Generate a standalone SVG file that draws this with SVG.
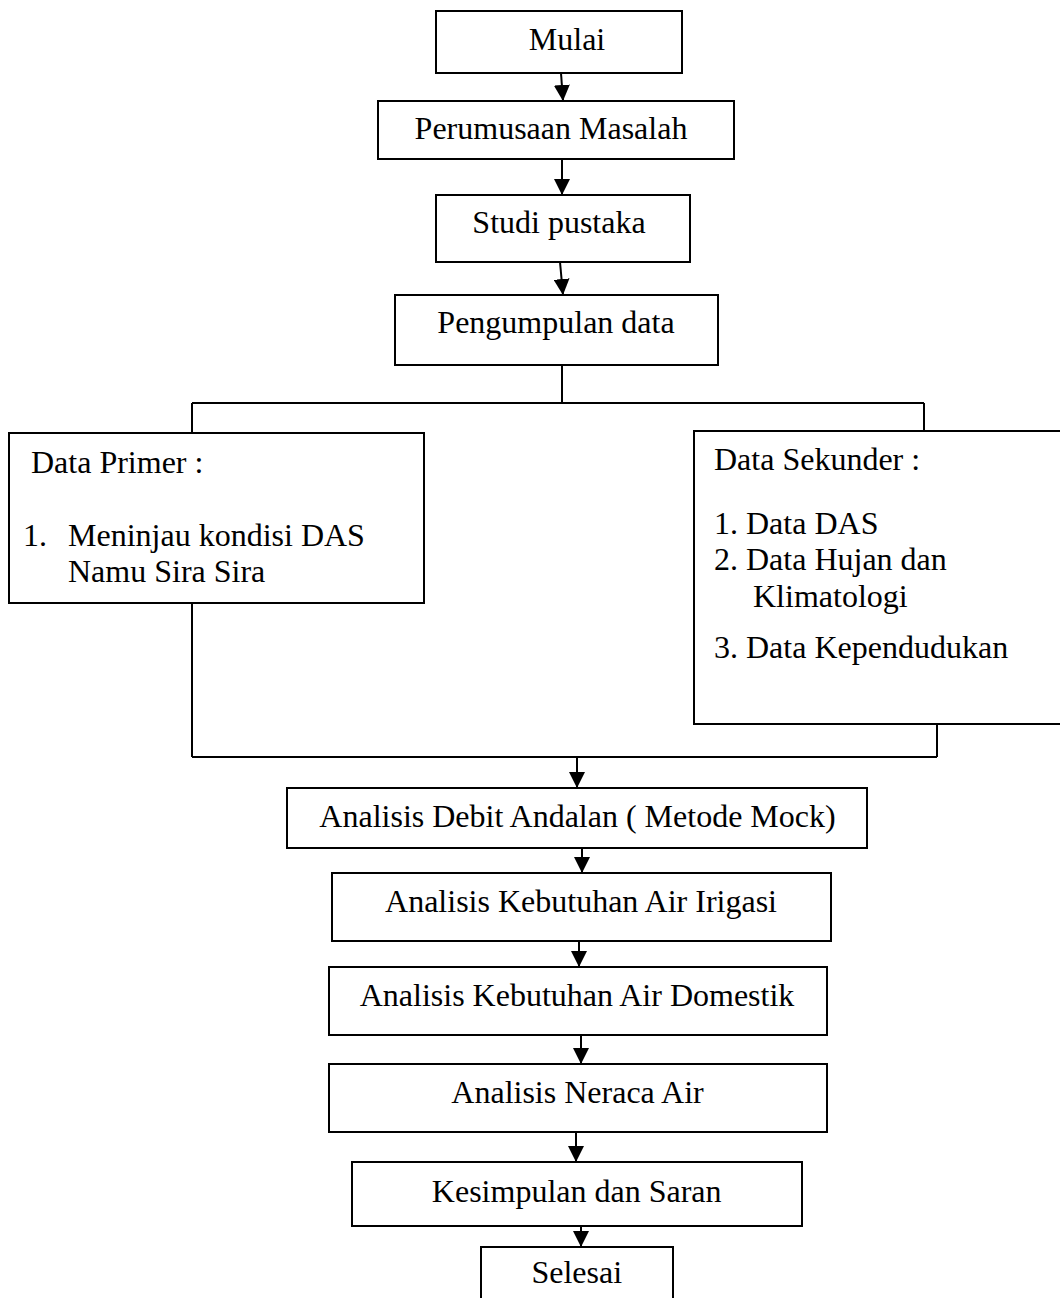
<svg xmlns="http://www.w3.org/2000/svg" width="1060" height="1298" viewBox="0 0 1060 1298">
<defs>
<style>
.box{fill:#fff;stroke:#000;stroke-width:2}
.ln{fill:none;stroke:#000;stroke-width:2}
.t{font-family:"Liberation Serif","Times New Roman",serif;font-size:32px;fill:#000}
.c{text-anchor:middle}
</style>
<marker id="arr" markerWidth="16" markerHeight="16" viewBox="0 0 16 16" refX="16" refY="8" orient="auto" markerUnits="userSpaceOnUse">
<path d="M0,0 L16,8 L0,16 Z" fill="#000"/>
</marker>
</defs>
<rect width="1060" height="1298" fill="#fff"/>
<g id="connectors">
<path class="ln" d="M561,73 L563,101" marker-end="url(#arr)"/>
<path class="ln" d="M562,159 L562,195" marker-end="url(#arr)"/>
<path class="ln" d="M560,262 L563,295" marker-end="url(#arr)"/>
<path class="ln" d="M562,365 L562,403 M192,403 L924,403 M192,403 L192,433 M924,403 L924,431"/>
<path class="ln" d="M192,603 L192,757 M937,724 L937,757 M192,757 L937,757"/>
<path class="ln" d="M577,757 L577,788" marker-end="url(#arr)"/>
<path class="ln" d="M582,848 L582,873" marker-end="url(#arr)"/>
<path class="ln" d="M579,941 L579,967" marker-end="url(#arr)"/>
<path class="ln" d="M581,1035 L581,1064" marker-end="url(#arr)"/>
<path class="ln" d="M576,1132 L576,1162" marker-end="url(#arr)"/>
<path class="ln" d="M581,1226 L581,1247" marker-end="url(#arr)"/>
</g>
<g id="mulai"><rect class="box" x="436" y="11" width="246" height="62"/><text class="t c" x="567" y="50">Mulai</text></g>
<g id="perumusaan"><rect class="box" x="378" y="101" width="356" height="58"/><text class="t c" x="551" y="139">Perumusaan Masalah</text></g>
<g id="studi"><rect class="box" x="436" y="195" width="254" height="67"/><text class="t c" x="559" y="233">Studi pustaka</text></g>
<g id="pengumpulan"><rect class="box" x="395" y="295" width="323" height="70"/><text class="t c" x="556" y="333">Pengumpulan data</text></g>
<g id="data-primer"><rect class="box" x="9" y="433" width="415" height="170"/>
<text class="t" x="31" y="473">Data Primer :</text>
<text class="t" x="23" y="546">1.</text>
<text class="t" x="68" y="546">Meninjau kondisi DAS</text>
<text class="t" x="68" y="582">Namu Sira Sira</text></g>
<g id="data-sekunder"><rect class="box" x="694" y="431" width="380" height="293"/>
<text class="t" x="714" y="470">Data Sekunder :</text>
<text class="t" x="714" y="534">1. Data DAS</text>
<text class="t" x="714" y="570">2. Data Hujan dan</text>
<text class="t" x="753" y="607">Klimatologi</text>
<text class="t" x="714" y="658">3. Data Kependudukan</text></g>
<g id="debit"><rect class="box" x="287" y="788" width="580" height="60"/><text class="t c" x="577.5" y="827">Analisis Debit Andalan ( Metode Mock)</text></g>
<g id="irigasi"><rect class="box" x="332" y="873" width="499" height="68"/><text class="t c" x="581" y="912">Analisis Kebutuhan Air Irigasi</text></g>
<g id="domestik"><rect class="box" x="329" y="967" width="498" height="68"/><text class="t c" x="577" y="1006">Analisis Kebutuhan Air Domestik</text></g>
<g id="neraca"><rect class="box" x="329" y="1064" width="498" height="68"/><text class="t c" x="577.5" y="1103">Analisis Neraca Air</text></g>
<g id="kesimpulan"><rect class="box" x="352" y="1162" width="450" height="64"/><text class="t c" x="576.7" y="1202">Kesimpulan dan Saran</text></g>
<g id="selesai"><rect class="box" x="481" y="1247" width="192" height="60"/><text class="t c" x="576.7" y="1283">Selesai</text></g>
</svg>
